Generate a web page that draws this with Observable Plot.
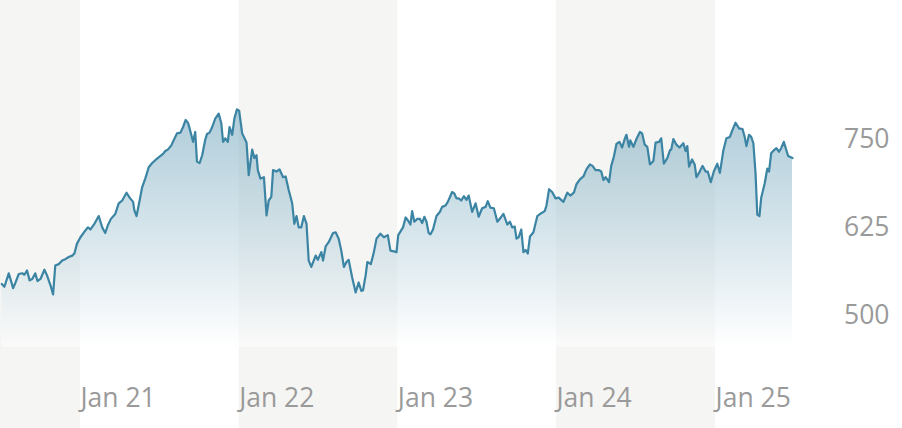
<!DOCTYPE html>
<html>
<head>
<meta charset="utf-8">
<script src="https://cdn.jsdelivr.net/npm/d3@7"></script>
<script src="https://cdn.jsdelivr.net/npm/@observablehq/plot@0.6"></script>
<style>
  html, body { margin: 0; padding: 0; background: #ffffff; }
  #chart svg { display: block; }
</style>
</head>
<body>
<div id="chart"></div>
<script>
const dates = [
"2020-07-04","2020-07-10","2020-07-20","2020-07-30","2020-08-04","2020-08-12","2020-08-20","2020-08-25","2020-08-31","2020-09-06",
"2020-09-12","2020-09-19","2020-09-24","2020-10-01","2020-10-10","2020-10-16","2020-10-24","2020-10-30","2020-11-04","2020-11-12",
"2020-11-20","2020-11-27","2020-12-05","2020-12-13","2020-12-18","2020-12-24","2021-01-01","2021-01-09","2021-01-18","2021-01-24",
"2021-02-02","2021-02-12","2021-02-20","2021-02-27","2021-03-05","2021-03-12","2021-03-22","2021-03-30","2021-04-07","2021-04-17",
"2021-04-24","2021-05-02","2021-05-05","2021-05-10","2021-05-17","2021-05-23","2021-05-30","2021-06-07","2021-06-15","2021-06-22",
"2021-07-02","2021-07-10","2021-07-15","2021-07-21","2021-07-29","2021-08-04","2021-08-11","2021-08-19","2021-08-25","2021-08-31",
"2021-09-06","2021-09-12","2021-09-17","2021-09-22","2021-09-26","2021-10-02","2021-10-08","2021-10-15","2021-10-19","2021-10-25",
"2021-10-31","2021-11-07","2021-11-15","2021-11-21","2021-11-25","2021-11-30","2021-12-06","2021-12-10","2021-12-16","2021-12-21",
"2021-12-27","2022-01-01","2022-01-08","2022-01-18","2022-01-23","2022-01-31","2022-02-05","2022-02-10","2022-02-13","2022-02-19",
"2022-02-27","2022-03-05","2022-03-10","2022-03-16","2022-03-20","2022-03-28","2022-04-04","2022-04-12","2022-04-18","2022-04-25",
"2022-05-03","2022-05-08","2022-05-13","2022-05-18","2022-05-24","2022-05-30","2022-06-05","2022-06-10","2022-06-16","2022-06-26",
"2022-07-01","2022-07-09","2022-07-13","2022-07-19","2022-07-26","2022-08-05","2022-08-11","2022-08-18","2022-08-24","2022-08-30",
"2022-09-05","2022-09-10","2022-09-18","2022-09-26","2022-10-03","2022-10-09","2022-10-13","2022-10-19","2022-10-23","2022-10-31",
"2022-11-07","2022-11-13","2022-11-22","2022-11-30","2022-12-09","2022-12-15","2022-12-23","2022-12-29","2023-01-02","2023-01-09",
"2023-01-13","2023-01-19","2023-01-24","2023-01-30","2023-02-03","2023-02-08","2023-02-15","2023-02-21","2023-02-26","2023-03-03",
"2023-03-08","2023-03-13","2023-03-17","2023-03-23","2023-03-31","2023-04-08","2023-04-13","2023-04-21","2023-04-26","2023-05-01",
"2023-05-06","2023-05-11","2023-05-16","2023-05-21","2023-05-27","2023-06-02","2023-06-08","2023-06-13","2023-06-21","2023-06-29",
"2023-07-06","2023-07-14","2023-07-22","2023-07-27","2023-08-02","2023-08-10","2023-08-18","2023-08-26","2023-09-01","2023-09-10",
"2023-09-16","2023-09-21","2023-09-27","2023-10-01","2023-10-06","2023-10-12","2023-10-17","2023-10-22","2023-10-27","2023-11-01",
"2023-11-09","2023-11-18","2023-11-27","2023-12-05","2023-12-09","2023-12-15","2023-12-22","2023-12-30","2024-01-06","2024-01-17",
"2024-01-26","2024-02-02","2024-02-10","2024-02-16","2024-02-24","2024-03-03","2024-03-10","2024-03-18","2024-03-24","2024-03-31",
"2024-04-08","2024-04-13","2024-04-18","2024-04-23","2024-05-01","2024-05-06","2024-05-12","2024-05-18","2024-05-25","2024-05-31",
"2024-06-06","2024-06-10","2024-06-16","2024-06-19","2024-06-26","2024-07-03","2024-07-11","2024-07-16","2024-07-22","2024-07-28",
"2024-08-03","2024-08-11","2024-08-16","2024-08-24","2024-08-29","2024-09-04","2024-09-12","2024-09-18","2024-09-21","2024-09-26",
"2024-10-03","2024-10-10","2024-10-19","2024-10-24","2024-10-28","2024-11-01","2024-11-08","2024-11-14","2024-11-18","2024-11-24",
"2024-12-02","2024-12-09","2024-12-14","2024-12-21","2024-12-28","2025-01-05","2025-01-11","2025-01-19","2025-01-26","2025-02-03",
"2025-02-09","2025-02-16","2025-02-24","2025-03-04","2025-03-09","2025-03-13","2025-03-19","2025-03-24","2025-03-29","2025-04-03",
"2025-04-07","2025-04-12","2025-04-16","2025-04-24","2025-04-30","2025-05-04","2025-05-09","2025-05-15","2025-05-21","2025-05-27",
"2025-06-01","2025-06-07","2025-06-17","2025-06-27"
];
const values = [
545,541,560,539,546,559,560,558,564,550,
552,560,549,552,565,557,543,530,571,573,
578,580,583,585,588,602,611,618,625,622,
630,641,625,617,628,637,644,659,663,674,
667,661,649,641,663,682,694,710,716,720,
725,729,733,735,741,749,758,759,767,777,
772,758,746,760,718,716,727,749,757,759,
767,779,786,772,746,751,746,767,756,779,
792,790,758,745,699,735,723,727,706,694,
696,642,663,668,706,704,707,696,697,678,
659,630,641,625,625,641,630,578,569,585,
579,590,578,598,604,617,618,609,592,569,
576,579,554,533,547,535,536,557,576,573,
590,609,616,611,614,592,591,590,614,621,
625,639,635,629,648,633,637,637,631,640,
633,617,615,622,641,647,654,656,661,668,
675,673,666,666,663,669,664,670,647,659,
640,652,654,662,653,652,633,639,644,629,
633,625,626,609,611,622,590,593,588,612,
618,641,645,648,656,679,675,666,667,661,
674,670,674,686,693,697,707,714,712,706,
706,704,692,696,689,712,725,743,746,738,
750,756,739,748,739,750,760,758,742,739,
714,719,745,746,751,715,723,734,735,750,
742,738,744,733,740,711,721,714,696,702,
712,704,704,689,704,715,702,734,751,753,
763,773,765,764,753,740,756,753,744,701,
643,641,667,687,708,704,730,734,737,732,
737,746,726,723
];

const bandStarts = ["2020-07-01", "2022-01-01", "2024-01-01"];
const bandEnds   = ["2021-01-01", "2023-01-01", "2025-01-01"];

const xTickDates  = ["2021-01-01", "2022-01-01", "2023-01-01", "2024-01-01", "2025-01-01"];
const xTickLabels = ["Jan 21", "Jan 22", "Jan 23", "Jan 24", "Jan 25"];

const yTicks = [500, 625, 750];

const xDomain = ["2020-07-01", "2025-06-27"];
const yDomain = [455, 946];

// tables built from the arrays
const series = dates.map((d, i) => ({date: new Date(d), value: values[i]}));
const bands = bandStarts.map((d, i) => ({start: new Date(d), end: new Date(bandEnds[i])}));
const xTicks = xTickDates.map((d, i) => ({date: new Date(d), label: xTickLabels[i]}));
const yBase = yDomain[0];

const textColor = "#9a9a9a";
const font = "'Open Sans', 'Noto Sans', sans-serif";

const chart = Plot.plot({
  width: 902,
  height: 428,
  marginLeft: 0,
  marginRight: 110,
  marginTop: 0,
  marginBottom: 81,
  style: {fontFamily: font, background: "transparent", overflow: "visible"},
  x: {type: "utc", domain: xDomain.map(d => new Date(d)), axis: null},
  y: {type: "linear", domain: yDomain, axis: null},
  marks: [
    Plot.rect(bands, {x1: "start", x2: "end", fill: "#f5f5f3", insetBottom: -81}),
    Plot.areaY(series, {x: "date", y1: yBase, y2: "value", fill: "url(#areaGrad)", curve: "linear"}),
    Plot.lineY(series, {x: "date", y: "value", stroke: "#3b84a3", strokeWidth: 2.2, curve: "linear"}),
    Plot.text(xTicks, {x: "date", text: "label", frameAnchor: "bottom", dy: 59, textAnchor: "start",
      fontSize: 26.5, fill: textColor}),
    Plot.text(yTicks, {y: d => d, text: d => String(d), frameAnchor: "right", dx: 97, textAnchor: "end",
      fontSize: 26.5, fill: textColor})
  ]
});

// gradient definition for the area fill
const ns = "http://www.w3.org/2000/svg";
const defs = document.createElementNS(ns, "defs");
const grad = document.createElementNS(ns, "linearGradient");
grad.setAttribute("id", "areaGrad");
grad.setAttribute("x1", "0"); grad.setAttribute("y1", "0");
grad.setAttribute("x2", "0"); grad.setAttribute("y2", "1");
[["0%", "#5f9ab4", 0.5], ["100%", "#ffffff", 0.55]].forEach(([off, col, op]) => {
  const s = document.createElementNS(ns, "stop");
  s.setAttribute("offset", off);
  s.setAttribute("stop-color", col);
  s.setAttribute("stop-opacity", op);
  grad.appendChild(s);
});
defs.appendChild(grad);
chart.insertBefore(defs, chart.firstChild);

document.getElementById("chart").appendChild(chart);
</script>
</body>
</html>
